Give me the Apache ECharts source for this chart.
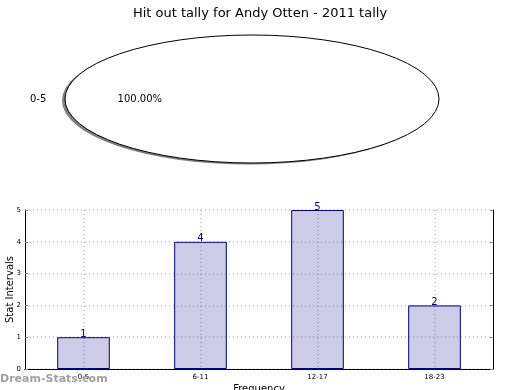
<!DOCTYPE html>
<html><head><meta charset="utf-8">
<script src="https://cdn.jsdelivr.net/npm/echarts@6/dist/echarts.min.js"></script>
<style>html,body{margin:0;padding:0;background:#fff}#c{width:520px;height:390px}</style>
</head><body><div id="c"></div>
<script>
const titleText = 'Hit out tally for Andy Otten - 2011 tally';
const pieLabels = ['0-5'];
const pieValues = [1];
const categories = ['0-5', '6-11', '12-17', '18-23'];
const barValues = [1, 4, 5, 2];
const yTicks = [0, 1, 2, 3, 4, 5];
const FONT = 'DejaVu Sans';

const pieTotal = pieValues.reduce((a, b) => a + b, 0);
const PIE_CX = 252, PIE_CY = 99, PIE_RX = 187, PIE_RY = 64;

function ellipseWedgePath(cx, cy, rx, ry, a0, a1) {
  const pt = a => [cx + Math.cos(a) * rx, cy - Math.sin(a) * ry];
  if (a1 - a0 >= Math.PI * 2 - 1e-9) {
    const p = pt(a0), q = pt(a0 + Math.PI);
    return 'M' + p[0] + ' ' + p[1] + ' A' + rx + ' ' + ry + ' 0 1 0 ' + q[0] + ' ' + q[1] +
      ' A' + rx + ' ' + ry + ' 0 1 0 ' + p[0] + ' ' + p[1] + ' Z';
  }
  const p = pt(a0), q = pt(a1);
  const large = (a1 - a0) > Math.PI ? 1 : 0;
  return 'M' + cx + ' ' + cy + ' L' + p[0] + ' ' + p[1] + ' A' + rx + ' ' + ry + ' 0 ' + large + ' 0 ' + q[0] + ' ' + q[1] + ' Z';
}

const gridLine = {show: true, lineStyle: {color: '#bdbdbd', type: [1, 3], width: 1.5}};
const chart = echarts.init(document.getElementById('c'), null, {renderer: 'canvas'});
chart.setOption({
  animation: false,
  backgroundColor: '#fff',
  title: {text: titleText, left: 'center', top: 2,
    textStyle: {fontFamily: FONT, fontSize: 13, fontWeight: 'normal', color: '#000'}},
  graphic: [{type: 'text', left: 0, top: 374, z: 100,
    style: {text: 'Dream-Stats.com', fontFamily: FONT, fontSize: 11, fontWeight: 'bold', fill: 'rgba(128,128,128,0.75)'}}],
  grid: {left: 25, right: 27, top: 210, bottom: 21, containLabel: false, outerBoundsMode: 'none'},
  xAxis: [{
    type: 'category', data: categories, position: 'bottom',
    name: 'Frequency', nameLocation: 'middle', nameGap: 15, nameMoveOverlap: false,
    nameTextStyle: {fontFamily: FONT, fontSize: 10, color: '#000'},
    axisLine: {lineStyle: {color: '#000', width: 1}},
    axisTick: {inside: true, length: 3, alignWithLabel: true, lineStyle: {color: '#888'}},
    axisLabel: {fontFamily: FONT, fontSize: 7, color: '#000', margin: 5},
    splitLine: Object.assign({alignWithLabel: true}, gridLine)
  }, {
    type: 'category', data: categories, position: 'top',
    axisLine: {lineStyle: {color: '#000', width: 1}},
    axisTick: {inside: true, length: 3, alignWithLabel: true, lineStyle: {color: '#888'}},
    axisLabel: {show: false}, splitLine: {show: false}
  }],
  yAxis: [{
    type: 'value', min: yTicks[0], max: yTicks[yTicks.length - 1], interval: 1, position: 'left',
    name: 'Stat Intervals', nameLocation: 'middle', nameGap: 10, nameRotate: 90, nameMoveOverlap: false,
    nameTextStyle: {fontFamily: FONT, fontSize: 10, color: '#000'},
    axisLine: {show: true, lineStyle: {color: '#000', width: 1}},
    axisTick: {show: true, inside: true, length: 3, lineStyle: {color: '#888'}},
    axisLabel: {fontFamily: FONT, fontSize: 7, color: '#000', margin: 4},
    splitLine: gridLine
  }, {
    type: 'value', min: yTicks[0], max: yTicks[yTicks.length - 1], interval: 1, position: 'right',
    axisLine: {show: true, lineStyle: {color: '#000', width: 1}},
    axisTick: {show: true, inside: true, length: 3, lineStyle: {color: '#888'}},
    axisLabel: {show: false}, splitLine: {show: false}
  }],
  series: [{
    type: 'bar', data: barValues, xAxisIndex: 0, yAxisIndex: 0, barWidth: '45%',
    itemStyle: {color: 'rgba(0,0,128,0.2)', borderColor: '#00008b', borderWidth: 1},
    label: {show: true, position: 'top', distance: -2, fontFamily: FONT, fontSize: 10, color: '#00008b'},
    z: 2
  }, {
    type: 'custom', coordinateSystem: 'none', data: pieValues.map((v, i) => ({value: v, name: pieLabels[i]})),
    renderItem: function (params, api) {
      const idx = params.dataIndex;
      let before = 0;
      for (let i = 0; i < idx; i++) before += pieValues[i];
      const v = api.value(0);
      const a0 = before / pieTotal * Math.PI * 2;
      const a1 = (before + v) / pieTotal * Math.PI * 2;
      const mid = (a0 + a1) / 2;
      const share = v / pieTotal;
      const lx = PIE_CX + Math.cos(mid) * PIE_RX * 1.1;
      const ly = PIE_CY - Math.sin(mid) * PIE_RY * 1.1;
      const px = PIE_CX + Math.cos(mid) * PIE_RX * 0.6;
      const py = PIE_CY - Math.sin(mid) * PIE_RY * 0.6;
      return {
        type: 'group',
        children: [
          {type: 'path', shape: {pathData: ellipseWedgePath(PIE_CX - 3, PIE_CY + 1.5, PIE_RX, PIE_RY, a0, a1)},
            style: {fill: 'rgba(0,0,0,0.5)', stroke: null}},
          {type: 'path', shape: {pathData: ellipseWedgePath(PIE_CX, PIE_CY, PIE_RX, PIE_RY, a0, a1)},
            style: {fill: '#fff', stroke: '#000', lineWidth: 1}},
          {type: 'text', x: lx, y: ly, style: {text: pieLabels[idx],
            fontFamily: FONT, fontSize: 10, fill: '#000',
            align: Math.cos(mid) < 0 ? 'right' : 'left', verticalAlign: 'middle'}},
          {type: 'text', x: px, y: py, style: {text: (share * 100).toFixed(2) + '%',
            fontFamily: FONT, fontSize: 10, fill: '#000', align: 'center', verticalAlign: 'middle'}}
        ]
      };
    }
  }]
});
</script></body></html>
